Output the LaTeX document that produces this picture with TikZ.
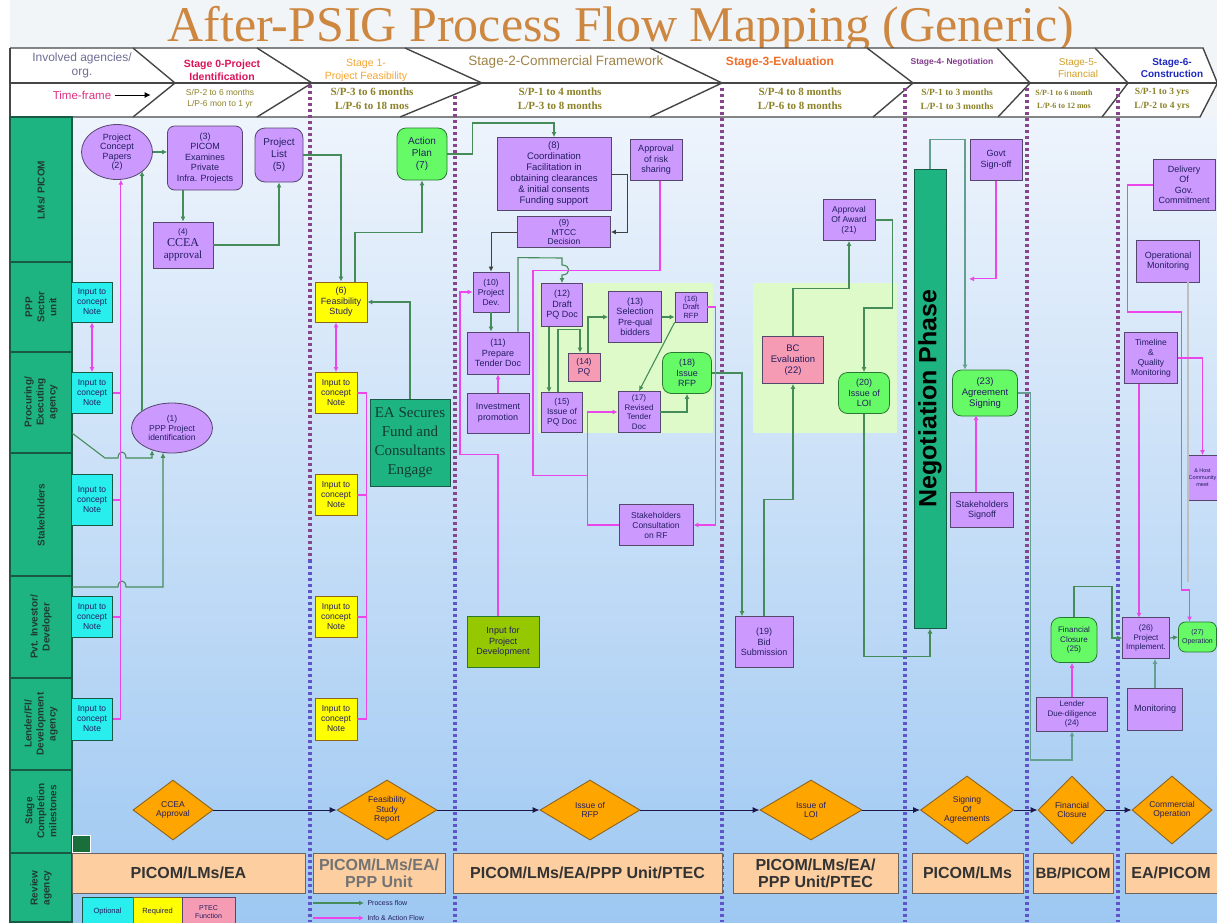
\documentclass[tikz,border=0pt]{standalone}
\usepackage{fontspec}
\setmainfont{Liberation Sans}
\newfontfamily\serifont{Liberation Serif}
\usetikzlibrary{shapes.geometric,arrows.meta}
\newcommand\myfs[2]{\fontsize{#1}{#2}\selectfont}
\definecolor{purp}{RGB}{204,153,255}
\definecolor{purpd}{RGB}{85,70,110}
\definecolor{cyanb}{RGB}{40,238,238}
\definecolor{yell}{RGB}{255,255,0}
\definecolor{greenb}{RGB}{102,250,102}
\definecolor{greend}{RGB}{40,120,50}
\definecolor{pinkb}{RGB}{245,155,180}
\definecolor{limeb}{RGB}{150,200,0}
\definecolor{orng}{RGB}{255,165,0}
\definecolor{orngd}{RGB}{140,100,30}
\definecolor{peach}{RGB}{252,206,160}
\definecolor{peachd}{RGB}{110,100,95}
\definecolor{tealb}{RGB}{30,180,130}
\definecolor{teald}{RGB}{25,90,70}
\definecolor{flowg}{RGB}{70,140,90}
\definecolor{flowt}{RGB}{100,160,145}
\definecolor{flowm}{RGB}{235,70,235}
\definecolor{navy}{RGB}{35,30,95}
\definecolor{dotA}{RGB}{135,70,140}
\definecolor{dotB}{RGB}{95,85,200}
\definecolor{olivet}{RGB}{140,130,40}
\definecolor{titlec}{RGB}{205,135,65}
\definecolor{hdrline}{RGB}{70,70,70}
\definecolor{lightg}{RGB}{222,250,200}
\definecolor{topbg}{RGB}{242,245,248}
\definecolor{bgtop}{RGB}{238,244,252}
\definecolor{bgbot}{RGB}{158,200,242}
\definecolor{lanetxt}{RGB}{30,60,50}
\definecolor{agencyc}{RGB}{110,110,150}
\definecolor{st0}{RGB}{220,20,90}
\definecolor{st1}{RGB}{245,165,50}
\definecolor{st2}{RGB}{160,130,70}
\definecolor{st3}{RGB}{240,110,40}
\definecolor{st4}{RGB}{130,60,140}
\definecolor{st5}{RGB}{210,160,40}
\definecolor{st6}{RGB}{30,40,190}
\definecolor{tfc}{RGB}{220,50,130}
\definecolor{eatxt}{RGB}{20,60,50}
\definecolor{sqg}{RGB}{25,110,60}
\tikzset{
 box/.style={draw=purpd, line width=0.8pt, align=center, inner sep=0.5pt, text=navy, font=\myfs{9}{10.5}},
 sz/.style 2 args={minimum width=#1pt, minimum height=#2pt},
 pbox/.style={box, rectangle, fill=purp},
 prbox/.style={box, rectangle, rounded corners=7pt, fill=purp},
 pell/.style={box, ellipse, fill=purp, inner sep=0pt},
 cbox/.style={box, rectangle, fill=cyanb, draw=teald, font=\myfs{8.5}{10}},
 ybox/.style={box, rectangle, fill=yell, draw=orngd, font=\myfs{8.5}{10}},
 gbox/.style={box, rectangle, rounded corners=9pt, fill=greenb, draw=greend},
 pkbox/.style={box, rectangle, fill=pinkb},
 lbox/.style={box, rectangle, fill=limeb, draw=greend},
 mile/.style={diamond, aspect=1.4, draw=orngd, line width=0.9pt, fill=orng, align=center, inner sep=0pt, text=navy, font=\myfs{8.5}{9.5}},
 rbox/.style={rectangle, draw=peachd, line width=1pt, fill=peach, align=center, font=\bfseries\myfs{16}{17}, text=black!80, minimum height=40pt, inner sep=0pt},
 lanelab/.style={rotate=90, align=center, font=\bfseries\myfs{10}{12}, text=lanetxt},
 gflow/.style={draw=flowg, line width=1.1pt, -{Latex[length=5pt,width=5pt]}},
 tflow/.style={draw=flowt, line width=1.1pt, -{Latex[length=5pt,width=5pt]}},
 mflow/.style={draw=flowm, line width=1.1pt, -{Latex[length=5pt,width=5pt]}},
 mline/.style={draw=flowm, line width=1.1pt},
 mboth/.style={draw=flowm, line width=1.1pt, {Latex[length=5pt,width=5pt]}-{Latex[length=5pt,width=5pt]}},
 kflow/.style={draw=black!75, line width=1pt, -{Latex[length=5pt,width=5pt]}},
 kflowb/.style={draw=navy!80!black, line width=1pt, -{Latex[length=7pt,width=6pt]}},
 dota/.style={draw=dotA, line width=4pt, dash pattern=on 3pt off 3pt},
 dotb/.style={draw=dotB, line width=4pt, dash pattern=on 3pt off 3pt},
 chev/.style={draw=hdrline, line width=1.4pt},
 tfs/.style={font=\serifont\bfseries\myfs{11}{14}, text=olivet, align=center},
}
\begin{document}
\begin{tikzpicture}[x=1pt,y=-1pt]
\useasboundingbox (0,0) rectangle (1217,922);
\fill[white] (0,0) rectangle (1217,922);
\fill[topbg] (10,0) rectangle (1217,117);
\shade[top color=bgtop, bottom color=bgbot] (72,117) rectangle (1217,922);

% title
\node[font=\serifont\myfs{50}{50}, text=titlec, anchor=base] (title) at (621,41) {After-PSIG Process Flow Mapping (Generic)};

% header band
\fill[white] (10,48) -- (1203,48) -- (1217,82) -- (1217,84) -- (1200,117) -- (10,117) -- cycle;
\draw[chev] (10,48) -- (1203,48) -- (1217,82);
\draw[chev] (10,117) -- (1200,117) -- (1217,84);
\draw[chev] (10,48) -- (10,117);
\draw[chev] (10,83) -- (1217,83);
\draw[chev] (133,48) -- (175,83) -- (133,117);
\draw[chev] (257,48) -- (312,83) -- (257,117);
\draw[chev] (405,48) -- (482,83) -- (400,117);
\draw[chev] (650,48) -- (722,83) -- (650,117);
\draw[chev] (867,48) -- (913,83) -- (873,117);
\draw[chev] (997,48) -- (1030,83) -- (998,117);
\draw[chev] (1095,48) -- (1128,83) -- (1102,117);

% stage labels
\node[font=\myfs{12}{14}, text=agencyc, align=center] (h0) at (82,65) {Involved agencies/\\org.};
\node[font=\bfseries\myfs{10.5}{13}, text=st0, align=center] (h1) at (222,70) {Stage 0-Project\\Identification};
\node[font=\myfs{10.5}{13}, text=st1, align=center] (h2) at (366,70) {Stage 1-\\Project Feasibility};
\node[font=\myfs{13.5}{15}, text=st2] (h3) at (566,62) {Stage-2-Commercial Framework};
\node[font=\bfseries\myfs{12}{14}, text=st3] (h4) at (780,62) {Stage-3-Evaluation};
\node[font=\bfseries\myfs{8.5}{10}, text=st4] (h5) at (952,62) {Stage-4- Negotiation};
\node[font=\myfs{10}{12}, text=st5, align=center] (h6) at (1078,68) {Stage-5-\\Financial};
\node[font=\bfseries\myfs{10}{12}, text=st6, align=center] (h7) at (1172,68) {Stage-6-\\Construction};

% time frames
\node[font=\myfs{11.5}{13}, text=tfc] (tf) at (82,95) {Time-frame};
\draw[draw=black, line width=1pt, -{Latex[length=6pt,width=6pt]}] (tf.east) -- ++(36,0);
\node[font=\myfs{8.5}{11}, text=olivet, align=center] (t1) at (220,99) {S/P-2 to 6 months\\L/P-6 mon to 1 yr};
\node[tfs] (t2) at (372,99) {S/P-3 to 6 months\\L/P-6 to 18 mos};
\node[tfs] (t3) at (560,99) {S/P-1 to 4 months\\L/P-3 to 8 months};
\node[tfs] (t4) at (800,99) {S/P-4 to 8 months\\L/P-6 to 8 months};
\node[tfs, font=\serifont\bfseries\myfs{9.5}{14}] (t5) at (957,99) {S/P-1 to 3 months\\L/P-1 to 3 months};
\node[tfs, font=\serifont\bfseries\myfs{8}{13}] (t6) at (1064,99) {S/P-1 to 6 month\\L/P-6 to 12 mos};
\node[tfs, font=\serifont\bfseries\myfs{9.5}{14}] (t7) at (1162,99) {S/P-1 to 3 yrs\\L/P-2 to 4 yrs};

% lane header column
\fill[tealb] (10,117) rectangle (72,922);
\draw[teald, line width=1.2pt] (10,117) rectangle (72,922);
\foreach \yy in {262,352,453,576,678,770,853} \draw[teald, line width=1.6pt] (10,\yy) -- (72,\yy);
\node[lanelab] (l1) at (41,190) {LMs/ PICOM};
\node[lanelab] (l2) at (41,307) {PPP\\Sector\\unit};
\node[lanelab] (l3) at (41,402) {Procuring/\\Executing\\agency};
\node[lanelab] (l4) at (41,515) {Stakeholders};
\node[lanelab] (l5) at (41,627) {Pvt. Investor/\\Developer};
\node[lanelab] (l6) at (41,724) {Lender/FI/\\Development\\agency};
\node[lanelab] (l7) at (41,811) {Stage\\Completion\\milestones};
\node[lanelab] (l8) at (41,888) {Review\\agency};

% light green areas
\fill[lightg] (538,283) rectangle (713,433);
\fill[lightg] (753,283) rectangle (897,433);

% dotted stage separators
\foreach \xx/\ys in {310/85,455/96,722/88,905/88,1027/88,1118/88} {
  \draw[dota] (\xx,\ys) -- (\xx,560);
  \draw[dotb] (\xx,560) -- (\xx,922);
}

% ---- lane 1
\node[pell, sz={71}{55}, font=\myfs{9}{9.5}] (n2) at (117,152) {Project\\Concept\\Papers\\(2)};
\node[prbox, sz={75}{64}] (n3) at (205,158) {(3)\\PICOM\\Examines\\Private\\Infra. Projects};
\node[prbox, rounded corners=10pt, sz={48}{54}, font=\myfs{10}{12}] (n5) at (279,155) {Project\\List\\(5)};
\node[pbox, sz={60}{46}, font=\myfs{11}{12}] (n4) at (183,245) {{\myfs{8}{9}(4)}\\{\serifont\myfs{12}{13}CCEA}\\{\serifont approval}};
\node[gbox, sz={50}{52}, font=\myfs{10}{12}] (n7) at (422,154) {Action\\Plan\\(7)};
\node[pbox, sz={114}{73}, font=\myfs{9.5}{11}] (n8) at (554,174) {(8)\\Coordination\\Facilitation in\\obtaining clearances\\\& initial consents\\Funding support};
\node[pbox, sz={52}{41}] (nrisk) at (656,160) {Approval\\of risk\\sharing};
\node[pbox, sz={93}{31}, font=\myfs{8.5}{9.5}] (n9) at (564,232) {(9)\\MTCC\\Decision};
\node[pbox, sz={52}{41}, font=\myfs{8.5}{10}] (n21) at (849,220) {Approval\\Of Award\\(21)};
\node[rectangle, draw=teald, line width=1pt, fill=tealb, sz={32}{459}] (neg) at (930,398.5) {};
\node[rotate=90, font=\bfseries\myfs{25}{25}, text=black] (negt) at (neg.center) {Negotiation Phase};
\node[pbox, sz={52}{41}] (ngov) at (996,160) {Govt\\Sign-off};
\node[pbox, sz={62}{51}] (ndel) at (1184,185) {Delivery\\Of\\Gov.\\Commitment};

% ---- lane 2
\node[cbox, sz={41}{40}] (c2) at (92,302) {Input to\\concept\\Note};
\node[ybox, sz={52}{40}, font=\myfs{9}{10.5}] (n6) at (341,302) {(6)\\Feasibility\\Study};
\node[pbox, sz={36}{40}, font=\myfs{8.5}{10}] (n10) at (491,292) {(10)\\Project\\Dev.};
\node[pbox, sz={41}{43}] (n12) at (562,305) {(12)\\Draft\\PQ Doc};
\node[pbox, sz={53}{51}] (n13) at (635,317) {(13)\\Selection\\Pre-qual\\bidders};
\node[pbox, sz={32}{30}, font=\myfs{7.5}{8.5}] (n16) at (691,307) {(16)\\Draft\\RFP};
\node[pbox, sz={63}{42}] (nopm) at (1168,261) {Operational\\Monitoring};

% ---- lane 3
\node[cbox, sz={41}{41}] (c3) at (92,393) {Input to\\concept\\Note};
\node[ybox, sz={42}{41}] (y3) at (336,393) {Input to\\concept\\Note};
\node[pell, sz={81}{50}, font=\myfs{8.5}{9.5}] (n1) at (172,428) {(1)\\PPP Project\\identification};
\node[rectangle, draw=teald, line width=1pt, fill=tealb, sz={80}{87}, align=center, font=\serifont\myfs{15}{19}, text=eatxt, inner sep=0pt] (nea) at (410,443) {EA Secures\\Fund and\\Consultants\\Engage};
\node[pbox, sz={62}{42}] (n11) at (498,353) {(11)\\Prepare\\Tender Doc};
\node[pbox, sz={62}{40}] (ninv) at (498,413) {Investment\\promotion};
\node[pkbox, sz={32}{28}, font=\myfs{8.5}{10}] (n14) at (584,367) {(14)\\PQ};
\node[pbox, sz={41}{40}, font=\myfs{8.5}{10}] (n15) at (562,412) {(15)\\Issue of\\PQ Doc};
\node[pbox, sz={42}{41}, font=\myfs{8}{9.5}] (n17) at (639,412) {(17)\\Revised\\Tender\\Doc};
\node[gbox, sz={49}{41}] (n18) at (687,373) {(18)\\Issue\\RFP};
\node[pkbox, sz={61}{47}, font=\myfs{9.5}{11}] (n22) at (793,360) {BC\\Evaluation\\(22)};
\node[gbox, sz={51}{41}] (n20) at (864,393) {(20)\\Issue of\\LOI};
\node[gbox, sz={65}{46}, font=\myfs{9.5}{11}] (n23) at (985,393) {(23)\\Agreement\\Signing};
\node[pbox, sz={53}{51}, font=\myfs{8.5}{10}] (ntq) at (1151,358) {Timeline\\\&\\Quality\\Monitoring};

% ---- lane 4
\node[cbox, sz={41}{51}] (c4) at (92,500) {Input to\\concept\\Note};
\node[ybox, sz={42}{41}] (y4) at (336,495) {Input to\\concept\\Note};
\node[pbox, sz={74}{41}, font=\myfs{8.5}{10}] (nsc) at (656,525) {Stakeholders\\Consultation\\on RF};
\node[pbox, sz={63}{35}] (nss) at (982,510) {Stakeholders\\Signoff};
\node[pbox, sz={28}{45}, font=\myfs{5.5}{7}] (nhost) at (1202.5,478) {\& Host\\Community\\meet};

% ---- lane 5
\node[cbox, sz={41}{41}] (c5) at (92,617) {Input to\\concept\\Note};
\node[ybox, sz={42}{41}] (y5) at (336,617) {Input to\\concept\\Note};
\node[lbox, sz={72}{51}] (nipd) at (503,642) {Input for\\Project\\Development};
\node[pbox, sz={58}{51}] (n19) at (764,642) {(19)\\Bid\\Submission};
\node[gbox, sz={46}{45}, font=\myfs{8}{9.5}] (n25) at (1074,640) {Financial\\Closure\\(25)};
\node[pbox, sz={47}{41}, font=\myfs{8}{9.5}] (n26) at (1146,638) {(26)\\Project\\Implement.};
\node[gbox, rounded corners=7pt, sz={38}{30}, font=\myfs{7}{8.5}] (n27) at (1197.5,637) {(27)\\Operation};

% ---- lane 6
\node[cbox, sz={41}{42}] (c6) at (92,719) {Input to\\concept\\Note};
\node[ybox, sz={42}{42}] (y6) at (336,719) {Input to\\concept\\Note};
\node[pbox, sz={71}{34}, font=\myfs{8}{9.5}] (n24) at (1072,714) {Lender\\Due-diligence\\(24)};
\node[pbox, sz={55}{42}] (nmon) at (1155,709) {Monitoring};

% ---- milestones
\node[mile, sz={80}{60}] (m1) at (173,810) {CCEA\\Approval};
\node[mile, sz={100}{60}] (m2) at (387,810) {Feasibility\\Study\\Report};
\node[mile, sz={100}{60}] (m3) at (590,810) {Issue of\\RFP};
\node[mile, sz={102}{60}] (m4) at (811,810) {Issue of\\LOI};
\node[mile, sz={93}{68}] (m5) at (967,810) {Signing\\Of\\Agreements};
\node[mile, sz={68}{68}] (m6) at (1072,810) {Financial\\Closure};
\node[mile, sz={80}{68}] (m7) at (1172,810) {Commercial\\Operation};
\draw[kflowb] (m1.east) -- (m2.west);
\draw[kflowb] (m2.east) -- (m3.west);
\draw[kflowb] (m3.east) -- (m4.west);
\draw[kflowb] (m4.east) -- (m5.west);
\draw[kflowb] (m5.east) -- (m6.west);
\draw[kflowb] (m6.east) -- (m7.west);
\node[draw=white, line width=1pt, fill=sqg, sz={18}{17}, inner sep=0pt] (gsq) at (81,843.5) {};

% ---- review agency
\node[rbox, minimum width=233pt] (r1) at (188.5,873) {PICOM/LMs/EA};
\node[rbox, minimum width=132pt, text=black!55] (r2) at (379,873) {PICOM/LMs/EA/\\PPP Unit};
\node[rbox, minimum width=269pt] (r3) at (587.5,873) {PICOM/LMs/EA/PPP Unit/PTEC};
\node[rbox, minimum width=165pt] (r4) at (815.5,873) {PICOM/LMs/EA/\\PPP Unit/PTEC};
\node[rbox, minimum width=111pt] (r5) at (967.5,873) {PICOM/LMs};
\node[rbox, minimum width=80pt, font=\bfseries\myfs{15}{16}] (r6) at (1073,873) {BB/PICOM};
\node[rbox, minimum width=92pt] (r7) at (1171,873) {EA/PICOM};

% ---- legend
\node[cbox, sz={51}{30}, font=\myfs{7.5}{8.5}] (lg1) at (107.5,912) {Optional};
\node[ybox, sz={49}{30}, font=\myfs{7.5}{8.5}] (lg2) at (157.5,912) {Required};
\node[pkbox, sz={53}{30}, font=\myfs{7}{8}] (lg3) at (208.5,912) {PTEC\\Function};
\node[anchor=west, font=\myfs{7}{8}, text=navy] (lgt1) at (364,903) {Process flow};
\node[anchor=west, font=\myfs{7}{8}, text=navy] (lgt2) at (364,918) {Info \& Action Flow};
\coordinate (lga) at (313,903);
\coordinate (lgb) at (313,918);
\draw[gflow] (lga) -- (lgt1.west);
\draw[mflow] (lgb) -- (lgt2.west);

% ---- connectors: process flow
\draw[gflow] (n2.east) -- (n2.east -| n3.west);
\draw[gflow] (n4.north |- n3.south) -- (n4.north);
\draw[gflow] (n4.east) -| (n5.south);
\draw[gflow] (n1.150) -- (n1.150 |- n2.-36);
\coordinate (srcA) at (72,433);
\coordinate (srcB) at (72,587);
\draw[gflow] (srcA) -- (105,458) -- (118,458) .. controls (118,450) and (126,450) .. (126,458) -| (n1.-132);
\draw[gflow] (srcB) -- (118,587) .. controls (118,579) and (126,579) .. (126,587) -| (n1.-110);
\draw[gflow] (n5.east) -| (n6.north);
\draw[gflow] ([xshift=14pt]n6.north) -- ++(0,-49) -| (n7.south);
\draw[gflow] (nea.north) |- (n6.east);
\draw[gflow] (n7.east) -- ++(25,0) -- ++(0,-31) -| (n8.north);
\draw[kflow] (n8.east) -- ++(16,0) |- (n9.east);
\draw[kflow] (n9.west) -| (n10.north);
\draw[gflow] (n10.south) -- (n10.south |- n11.north);
\draw[gflow] ([xshift=20pt]n11.north) -- ++(0,-74) -- (562,258) -- (562,265) .. controls (571,265) and (571,275) .. (562,275) -- (n12.north);
\draw[gflow] ([xshift=-13pt]n12.south) -- ++(0,65.5);
\draw[gflow] ([xshift=-4pt]n15.north) -- ++(0,-62) -| ([xshift=-4pt]n14.north);
\draw[gflow] ([xshift=4pt]n14.north) |- (n13.west);
\draw[gflow] (n13.east) -- (n13.east -| n16.west);
\draw[gflow] (n16.south west) -- (n17.north);
\draw[gflow] (n17.east) -| (n18.south);
\draw[gflow] (n18.east) -| ([xshift=-22pt]n19.north);
\draw[gflow] (n19.north) -- ++(0,-117) -| (n22.south);
\draw[gflow] (n22.north) -- ++(0,-48) -| (n21.south);
\draw[gflow] (n21.east) -- ++(17,0) -- ++(0,88) -| (n20.north);
\draw[gflow] (n20.south) -- ++(0,243) -| (neg.south);
\draw[tflow] (neg.north) -- ++(0,-29) -| ([xshift=-20pt]n23.north);
\draw[tflow] (n23.east) -- ++(13,0) -- ++(0,367) -| (n24.south);
\draw[gflow] (n25.north) -- ++(0,-31) -- ++(38,0) |- (n26.west);
\draw[gflow] (n26.east) -- (n27.west);
\draw[tflow] (nmon.north) -- (nmon.north |- n26.south);
\draw[line width=1.1pt, draw=black!25] ([xshift=20pt]nopm.south) -- ++(0,300);

% ---- connectors: info & action flow
\draw[mflow] (ngov.south) -- ++(0,98) -- ++(-27,0);
\draw[mflow] ([xshift=-6pt]nss.north) -- ++(0,-77);
\draw[mflow] (n24.north) -- (n24.north |- n25.south);
\draw[mflow] (ndel.west) -- ++(-25,0) -- ++(0,127) -- ++(54,0) -- ++(0,278) -| ([xshift=-8pt]n27.north);
\draw[mflow] ([xshift=-12pt]ntq.south) -- ++(0,234);
\draw[mflow] (ntq.east) -| (nhost.north);
\draw[mflow] (c6.east) -| (n2.-82);
\foreach \c in {c3,c4,c5} \draw[mline] (\c.east) -- ++(8,0);
\draw[mboth] (c2.south) -- (c3.north);
\draw[mline] (y3.east) -- ++(9,0) |- (y6.east);
\foreach \c in {y4,y5} \draw[mline] (\c.east) -- ++(9,0);
\draw[mboth] ([xshift=-5pt]n6.south) -- (y3.north);
\draw[mflow] ([xshift=-5pt]nipd.north) -- ++(0,-162) -- ++(-38,0) |- (n10.west);
\draw[mflow] (ninv.north) -- (n11.south);
\draw[mline] ([xshift=4pt]nrisk.south) -- ++(0,90) -- ++(-127,0) -- ++(0,205) -- ++(55,0);
\draw[mflow] (n16.east) -- ++(8,0) |- (nsc.east);
\draw[mflow] (nsc.west) -- ++(-31,0) |- (n17.west);
\end{tikzpicture}
\end{document}
